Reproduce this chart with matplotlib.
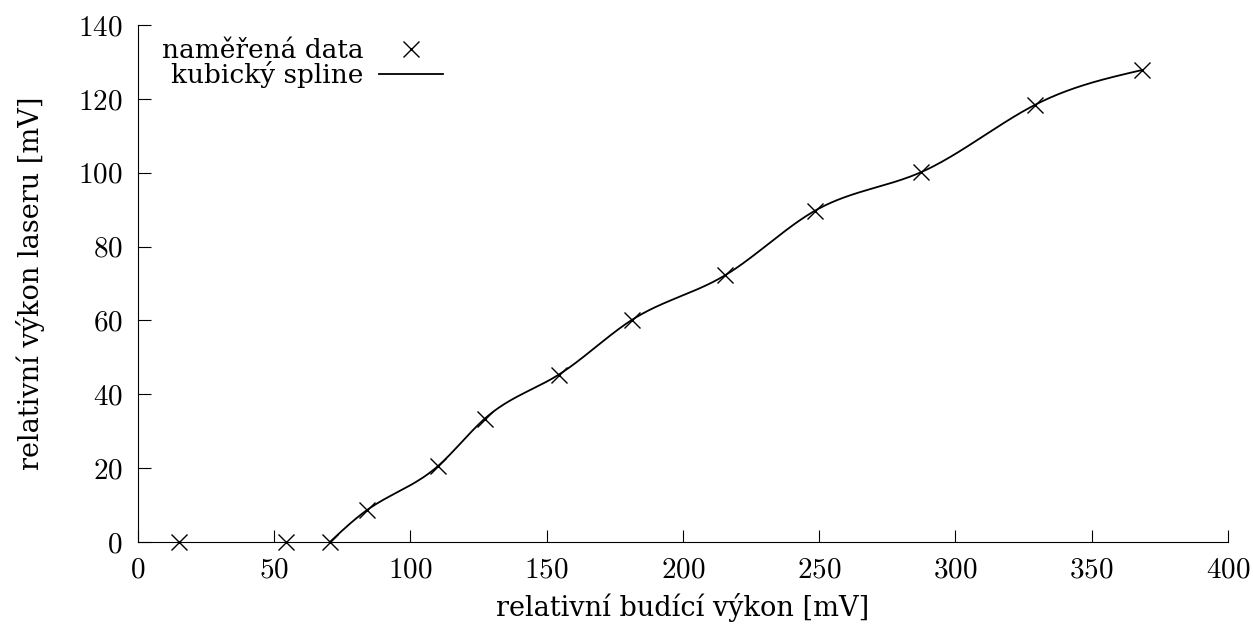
import matplotlib
matplotlib.use('Agg')
import matplotlib.pyplot as plt
import numpy as np

# Computer Modern digits, a serif with Czech glyphs for the words
plt.rcParams['font.family'] = ['cmr10', 'DejaVu Serif']
plt.rcParams['axes.formatter.use_mathtext'] = True
txt_font = ['DejaVu Serif']

# measured data
budici = np.array([15, 54.5, 70.5, 84.2, 110.2, 127.3, 154.4, 181.4, 215.4, 248.4, 287.2, 329.2, 368.3])
laser = np.array([0, 0, 0, 8.7, 20.6, 33.4, 45.3, 60.2, 72.2, 89.7, 100.1, 118.4, 127.8])

x_ticks = [0, 50, 100, 150, 200, 250, 300, 350, 400]
y_ticks = [0, 20, 40, 60, 80, 100, 120, 140]


# natural cubic spline through the points (the curve starts at the 3rd point)
def natural_spline(x, y, xs):
    n = len(x)
    h = np.diff(x)
    A = np.zeros((n, n))
    b = np.zeros(n)
    A[0, 0] = 1
    A[-1, -1] = 1
    for i in range(1, n - 1):
        A[i, i - 1] = h[i - 1]
        A[i, i] = 2 * (h[i - 1] + h[i])
        A[i, i + 1] = h[i]
        b[i] = 6 * ((y[i + 1] - y[i]) / h[i] - (y[i] - y[i - 1]) / h[i - 1])
    M = np.linalg.solve(A, b)
    idx = np.clip(np.searchsorted(x, xs) - 1, 0, n - 2)
    x0, x1 = x[idx], x[idx + 1]
    hh = x1 - x0
    t0 = x1 - xs
    t1 = xs - x0
    return (M[idx] * t0**3 / (6 * hh) + M[idx + 1] * t1**3 / (6 * hh)
            + (y[idx] / hh - M[idx] * hh / 6) * t0
            + (y[idx + 1] / hh - M[idx + 1] * hh / 6) * t1)


xs = budici[2:]
ys = laser[2:]
xx = np.linspace(xs[0], xs[-1], 400)
yy = natural_spline(xs, ys, xx)

fig = plt.figure(figsize=(12.53, 6.28), dpi=100)
ax = fig.add_axes([0.110, 0.137, 0.870, 0.823])

ax.plot(budici, laser, 'x', color='black', markersize=11, markeredgewidth=1.0,
        label='naměřená data', clip_on=False, zorder=3)
ax.plot(xx, yy, '-', color='black', linewidth=1.3, label='kubický spline')

ax.set_xlim(0, 400)
ax.set_ylim(0, 140)
ax.set_xticks(x_ticks)
ax.set_yticks(y_ticks)
ax.spines['top'].set_visible(False)
ax.spines['right'].set_visible(False)
ax.tick_params(direction='in', length=9, width=0.8, labelsize=21, pad=11)

ax.set_xlabel('relativní budící výkon [mV]', fontsize=19.5, family=txt_font, labelpad=7)
ax.set_ylabel('relativní výkon laseru [mV]', fontsize=19.5, family=txt_font, labelpad=24)

ax.legend(loc='upper left', frameon=False, markerfirst=False,
          prop={'family': txt_font, 'size': 19},
          handlelength=2.4, handletextpad=0.6, labelspacing=-0.08,
          borderaxespad=0.1, alignment='right',
          bbox_to_anchor=(0.01, 1.0))

fig.savefig('out.png', dpi=100)
